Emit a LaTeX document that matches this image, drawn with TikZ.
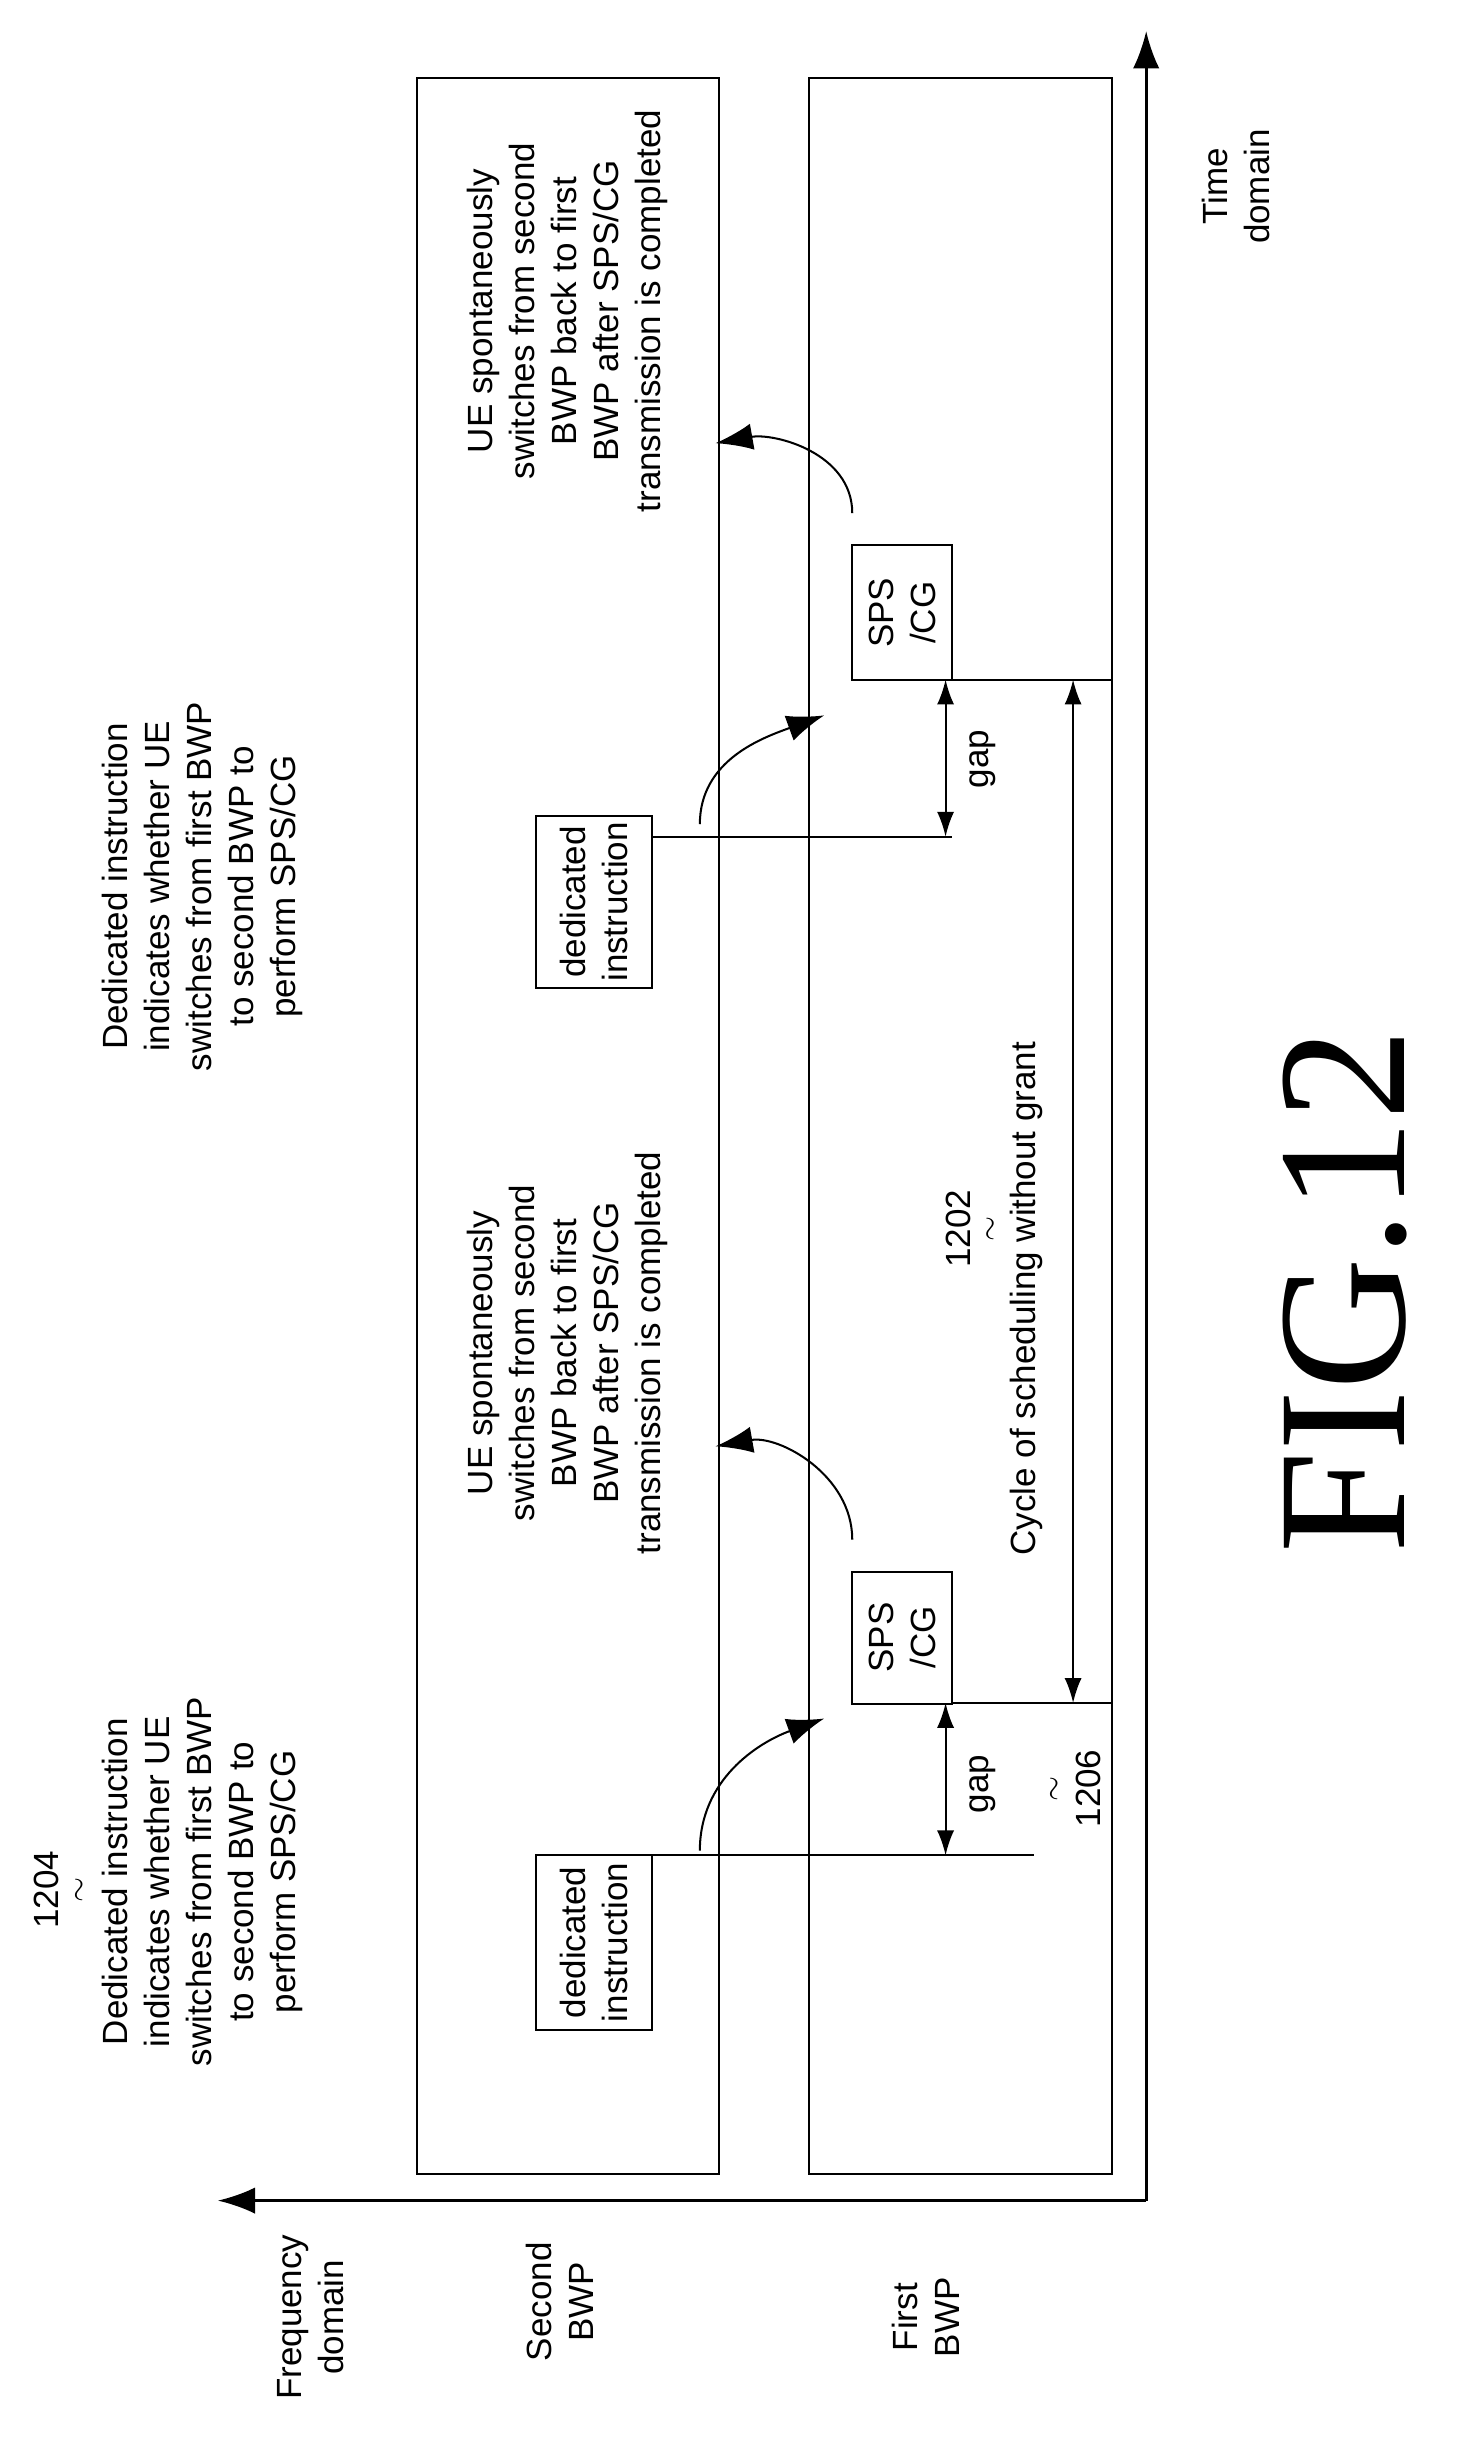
\documentclass[tikz,border=0pt]{standalone}
\usepackage{fontspec}
\setmainfont{Liberation Sans}
\newfontfamily\figfont{Liberation Serif}
\usetikzlibrary{arrows.meta}

\tikzset{
  txt/.style={rotate=90, align=center, font=\fontsize{22.5}{27}\selectfont},
  box/.style={draw, line width=1.3pt, txt, inner sep=4pt},
  tip/.style={-{Latex[length=24pt,width=17pt]}},
  both/.style={{Latex[length=16pt,width=11pt]}-{Latex[length=16pt,width=11pt]}}
}

\begin{document}
\begin{tikzpicture}[x=1pt,y=1pt,line width=1.3pt]
\useasboundingbox (0,0) rectangle (937,1576);
% axes
\coordinate (o) at (737,161);
\coordinate (tend) at (737,1556);
\coordinate (fend) at (140,161);
\draw [tip,line width=1.8pt] (o) -- (tend);
\draw [tip,line width=1.8pt] (o) -- (fend);
% BWP bands
\draw (268,178) rectangle (462,1526);
\draw (520,178) rectangle (715,1526);
% dedicated instructions
\node[box, minimum width=112pt, minimum height=75pt] (ded1) at (382,327) {dedicated\\instruction};
\node[box, minimum width=84pt, minimum height=75pt] (ded2) at (382,996) {dedicated\\instruction};
% SPS/CG
\node[box, minimum width=85pt, minimum height=64pt] (sps1) at (580,523) {SPS\\/CG};
\node[box, minimum width=87pt, minimum height=64pt] (sps2) at (580,1182) {SPS\\/CG};
% reference lines
\coordinate (d1) at (420,383);
\coordinate (d2) at (420,1038);
\coordinate (s1) at (612,481);
\coordinate (s2) at (612,1139);
\coordinate (l1) at (665,383);
\coordinate (l2) at (612,1038);
\coordinate (c1) at (715,481);
\coordinate (c2) at (715,1139);
\draw (d1) -- (l1);
\draw (d2) -- (l2);
\draw (s1) -- (c1);
\draw (s2) -- (c2);
% gaps
\coordinate (g1a) at (608,383);
\coordinate (g1b) at (608,481);
\coordinate (g2a) at (608,1038);
\coordinate (g2b) at (608,1139);
\draw [both] (g1a) -- (g1b);
\draw [both] (g2a) -- (g2b);
\node[txt] (gap1) at (632,429) {gap};
\node[txt] (gap2) at (632,1088) {gap};
% cycle
\coordinate (cy1) at (690,481);
\coordinate (cy2) at (690,1139);
\draw [both] (cy1) -- (cy2);
\node[txt] (cycle) at (660,741) {Cycle of scheduling without grant};
\node[txt] (n1202) at (616,786) {1202};
\node[txt] (t1202) at (638,786) {$\sim$};
\node[txt] (n1206) at (700,426) {1206};
\node[txt] (t1206) at (679,426) {$\sim$};
% curved arrows
\coordinate (a1s) at (450,386);
\coordinate (a1e) at (530,471);
\coordinate (b1s) at (548,586);
\coordinate (b1e) at (460,646);
\coordinate (a2s) at (450,1046);
\coordinate (a2e) at (530,1116);
\coordinate (b2s) at (548,1246);
\coordinate (b2e) at (460,1291);
\draw [tip] (a1s) to[out=90,in=200] (a1e);
\draw [tip] (b1s) to[out=90,in=10] (b1e);
\draw [tip] (a2s) to[out=90,in=200] (a2e);
\draw [tip] (b2s) to[out=90,in=10] (b2e);
% texts
\node[txt] (ue1) at (365,706) {UE spontaneously\\switches from second\\BWP back to first\\BWP after SPS/CG\\transmission is completed};
\node[txt] (ue2) at (365,1376) {UE spontaneously\\switches from second\\BWP back to first\\BWP after SPS/CG\\transmission is completed};
\node[txt] (di1) at (130,366) {Dedicated instruction\\indicates whether UE\\switches from first BWP\\to second BWP to\\perform SPS/CG};
\node[txt] (di2) at (130,1006) {Dedicated instruction\\indicates whether UE\\switches from first BWP\\to second BWP to\\perform SPS/CG};
\node[txt] (n1204) at (30,361) {1204};
\node[txt] (t1204) at (52,361) {$\sim$};
% axis labels
\node[txt] (freq) at (200,86) {Frequency\\domain};
\node[txt] (sec) at (360,96) {Second\\BWP};
\node[txt] (fir) at (595,86) {First\\BWP};
\node[txt] (time) at (795,1456) {Time\\domain};
\node[rotate=90, font=\figfont\fontsize{118}{120}\selectfont] (fig) at (865,746) {FIG.12};
\end{tikzpicture}
\end{document}
